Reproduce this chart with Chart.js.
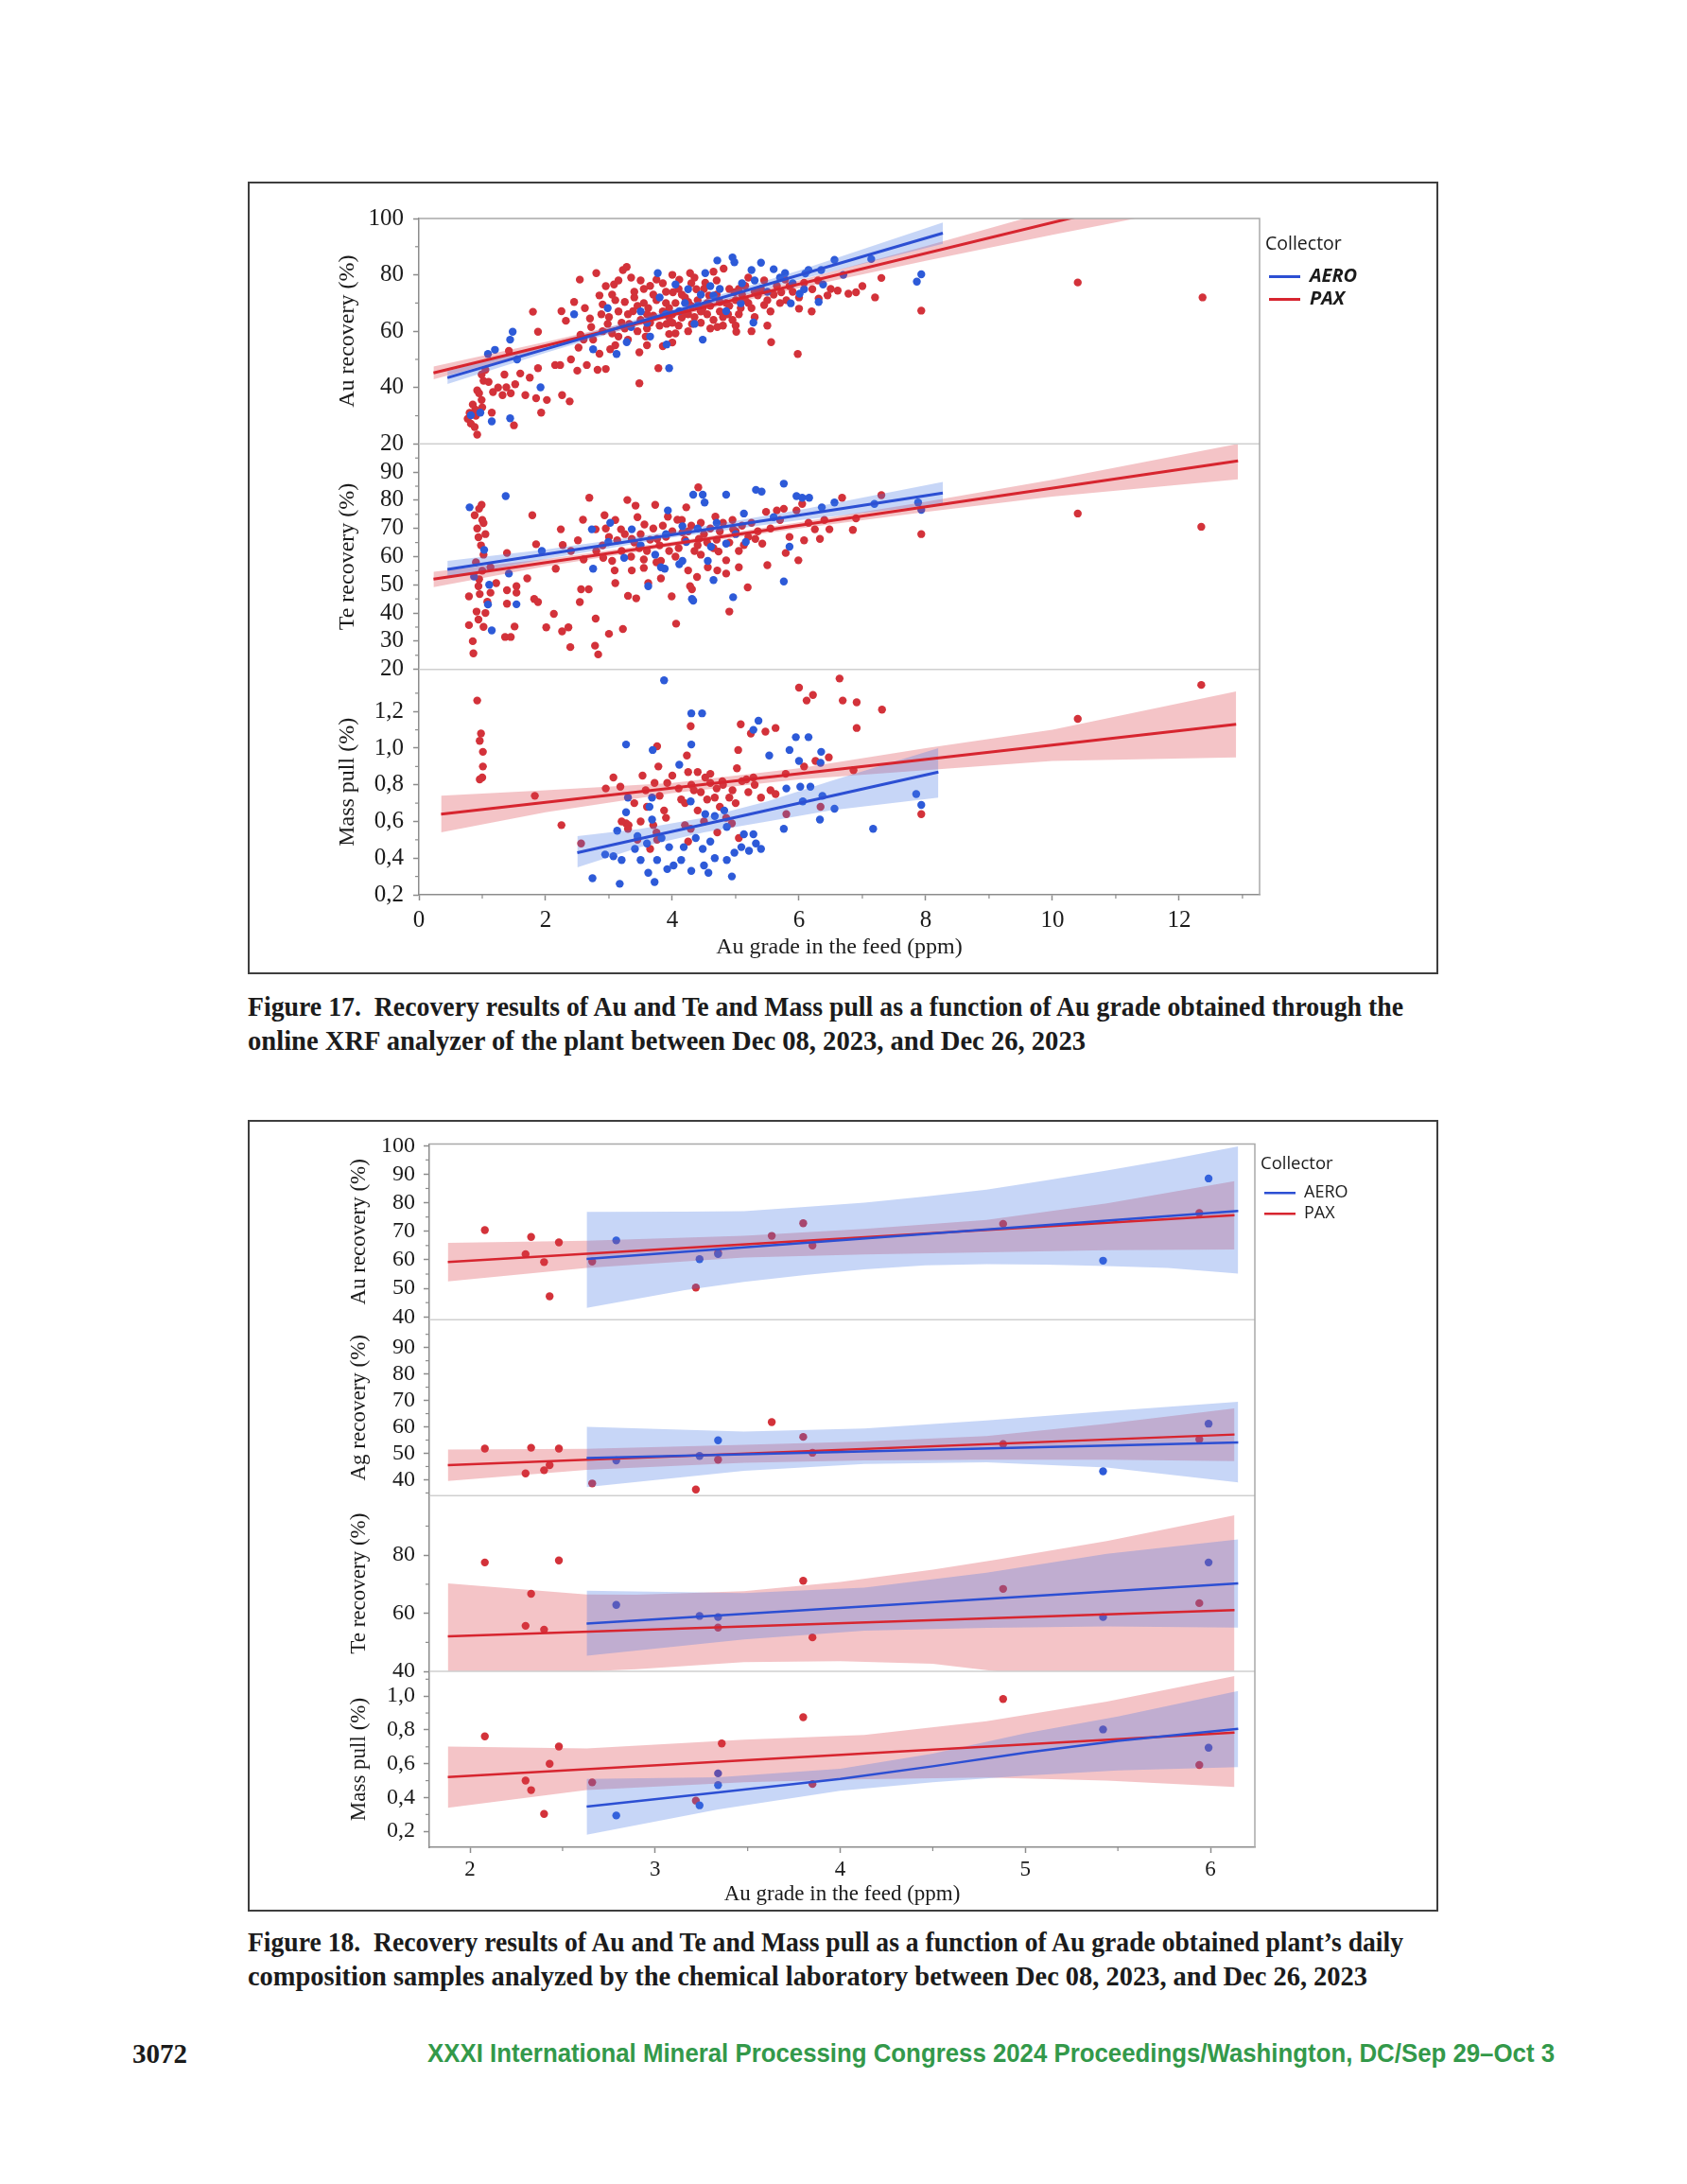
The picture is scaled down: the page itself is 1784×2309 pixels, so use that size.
<!DOCTYPE html>
<html>
<head>
<meta charset="utf-8">
<script src="https://cdn.jsdelivr.net/npm/chart.js@4.4.1/dist/chart.umd.min.js"></script>
<style>
html, body { margin: 0; padding: 0; background: #fff; }
body { width: 1784px; height: 2309px; position: relative; overflow: hidden; font-family: 'Liberation Serif', serif; color: #1b1b1b; }
.fig { position: absolute; left: 262px; width: 1255px; border: 2px solid #3e3e3e; background: #fff; }
#fig17 { top: 192px; height: 834px; }
#fig18 { top: 1184px; height: 833px; }
.line { position: absolute; white-space: nowrap; transform-origin: 0 50%; line-height: 36px; }
.cap { left: 262px; font-weight: bold; font-size: 30px; }
#pageNo { left: 140px; top: 2153px; font-weight: bold; font-size: 29px; }
#footer { left: 452px; top: 2153px; font-family: 'Liberation Sans', sans-serif; font-weight: bold; font-size: 28px; color: #33994a; }
</style>
</head>
<body>
<div class="fig" id="fig17"><canvas id="c17"></canvas></div>
<div class="line cap" id="cap17a" style="top:1046px">Figure 17.&nbsp; Recovery results of Au and Te and Mass pull as a function of Au grade obtained through the</div>
<div class="line cap" id="cap17b" style="top:1082px">online XRF analyzer of the plant between Dec 08, 2023, and Dec 26, 2023</div>

<div class="fig" id="fig18"><canvas id="c18"></canvas></div>
<div class="line cap" id="cap18a" style="top:2035px">Figure 18.&nbsp; Recovery results of Au and Te and Mass pull as a function of Au grade obtained plant’s daily</div>
<div class="line cap" id="cap18b" style="top:2071px">composition samples analyzed by the chemical laboratory between Dec 08, 2023, and Dec 26, 2023</div>

<div class="line" id="pageNo">3072</div>
<div class="line" id="footer">XXXI International Mineral Processing Congress 2024 Proceedings/Washington, DC/Sep 29–Oct 3</div>

<script>
// ---------- Figure 17 data (online XRF) : [Au grade ppm, value] ----------
const f17AuAero = [
  [0.82,30.2],[0.97,31.1],[1.15,28.0],[1.44,29.1],[1.92,40.1],[1.09,51.9],[1.20,53.4],[1.44,57.0],[1.48,59.8],[1.55,50.0],
  [2.45,66.0],[2.75,53.6],[3.12,51.9],[3.28,56.1],[3.91,55.3],[3.95,46.9],[4.48,57.0],[3.77,80.6],[4.05,76.6],[4.25,74.9],
  [4.52,80.6],[4.71,85.1],[4.95,86.2],[4.98,84.5],[5.25,81.7],[5.40,84.3],[5.28,63.1],[5.08,69.9],[4.85,67.1],[5.78,80.6],
  [5.87,69.9],[6.01,73.3],[6.15,81.7],[6.35,81.7],[6.31,70.4],[6.56,85.3],[6.38,76.6],[7.14,85.6],[6.08,74.9],[3.65,58.1],
  [3.35,61.5],[2.98,68.2],[4.11,67.1],[4.65,72.7],[4.35,62.6],[3.50,67.0],[4.40,69.0],[3.80,72.0],[4.60,76.0],[5.30,78.0],
  [5.60,82.0],[6.10,80.5],[5.70,79.0],[6.70,80.0],[7.86,77.6],[7.93,80.2],
  [3.60,63.0],[3.90,66.0],[4.20,70.0],[4.45,73.0],[4.75,75.0],[5.10,77.0],[5.50,74.0],[5.90,77.0]
];
const f17AuPax = [
  [0.77,28.9],[0.82,27.2],[0.92,23.3],[0.89,32.2],[0.99,35.6],[0.92,39.0],[1.02,42.4],[0.99,44.6],[1.05,46.3],[1.15,31.1],
  [1.17,38.4],[1.32,37.3],[1.38,40.1],[1.42,53.0],[1.35,44.6],[1.52,41.2],[1.50,26.6],[1.68,37.3],[1.75,43.5],[1.88,46.9],
  [1.88,59.8],[1.85,36.2],[1.93,31.1],[2.02,35.6],[1.80,66.9],[2.15,48.0],[2.23,48.0],[2.26,37.3],[2.38,35.1],[2.50,46.0],
  [2.65,48.0],[2.82,46.3],[2.95,46.6],[2.52,54.2],[2.55,58.7],[2.54,78.3],[2.80,80.6],[2.25,67.1],[2.32,63.7],[2.45,70.4],
  [2.62,68.2],[2.72,61.5],[2.85,72.7],[2.88,66.0],[2.98,62.6],[3.02,53.6],[3.08,76.6],[3.22,81.7],[3.28,82.8],[3.05,59.2],
  [3.15,58.1],[3.25,70.4],[3.32,62.6],[3.38,67.1],[3.48,52.5],[3.48,41.5],[3.58,58.1],[3.62,68.2],[3.65,76.1],[3.75,78.3],
  [3.78,46.9],[3.85,54.7],[3.91,62.6],[3.95,68.2],[4.01,73.8],[4.05,59.2],[4.11,78.3],[4.15,64.8],[4.25,70.4],[4.28,80.6],
  [4.31,62.6],[4.38,74.9],[4.48,68.2],[4.52,77.2],[4.58,72.7],[4.65,81.1],[4.71,61.5],[4.75,70.4],[4.81,82.2],[4.88,66.0],
  [4.98,73.8],[5.01,59.8],[5.08,68.2],[5.15,76.1],[5.25,68.2],[5.35,72.7],[5.45,69.3],[5.56,56.1],[5.65,76.1],[5.72,73.8],
  [5.78,78.3],[5.98,51.9],[6.08,77.2],[6.21,74.9],[6.31,71.6],[6.45,72.7],[6.61,74.4],[6.78,73.3],[6.90,73.8],[7.30,78.9],
  [7.93,67.3],[10.40,77.3],[12.37,72.0],
  [2.70,64.5],[2.90,69.5],[3.00,65.0],[3.10,71.0],[3.20,63.0],[3.30,66.0],[3.40,72.0],[3.45,60.0],[3.50,64.0],[3.55,70.0],
  [3.60,61.0],[3.70,65.5],[3.75,71.0],[3.80,62.0],[3.85,67.0],[3.90,74.0],[3.95,59.0],[4.00,66.0],[4.05,70.0],[4.10,62.0],
  [4.15,73.0],[4.20,67.0],[4.25,60.0],[4.30,69.0],[4.35,65.0],[4.40,71.0],[4.45,63.0],[4.50,75.0],[4.55,66.0],[4.60,69.0],
  [4.65,64.0],[4.70,73.0],[4.75,67.0],[4.80,62.0],[4.85,70.0],[4.90,75.0],[4.95,64.0],[5.00,71.0],[5.05,66.0],[5.10,73.0],
  [5.20,70.0],[5.30,65.0],[5.40,75.0],[5.50,71.0],[5.60,73.0],[5.80,71.0],[5.90,74.0],[6.00,72.0],[3.30,57.0],[3.60,55.0],
  [4.00,56.0],[2.60,57.0],[2.40,50.0],[3.10,55.0],[2.95,76.0],[3.50,78.0],[4.30,77.0],[5.20,79.0],[4.00,80.0],[3.40,74.0],
  [5.50,62.0],[6.20,67.0],[6.50,75.0],[7.00,76.0],[7.20,72.0],
  [0.80,31.0],[0.85,34.0],[0.90,30.0],[0.95,38.0],[1.00,33.0],[0.88,26.0],[1.10,42.0],[1.25,40.0],[1.45,38.0],[1.60,45.0],
  [3.05,73.0],[3.15,78.0],[3.35,79.0],[3.45,69.0],[3.55,75.0],[3.65,63.0],[3.70,73.0],[3.85,77.0],[3.90,70.0],[4.00,63.0],
  [4.10,75.0],[4.20,72.0],[4.35,79.0],[4.45,67.0],[4.55,70.0],[4.70,78.0],[4.80,65.0],[4.90,69.0],[5.05,75.0],[5.15,71.0],
  [5.30,74.0],[5.45,78.0],[5.55,67.0],[5.70,70.0],[5.85,76.0],[6.00,68.0],[6.30,78.0],[2.75,57.0],[2.85,52.0],[2.90,60.0],
  [3.15,67.0],[3.25,61.0],[3.60,66.0],[3.95,65.0],[4.25,66.0],[4.60,61.0],[5.00,62.0],[5.25,60.0]
];
const f17TeAero = [
  [0.80,77.5],[1.37,81.5],[1.03,62.4],[0.87,52.9],[1.11,50.0],[1.42,54.0],[1.54,43.1],[1.09,43.0],[1.15,33.8],[1.94,62.0],
  [2.75,55.7],[2.99,65.2],[3.24,59.6],[3.36,69.7],[3.62,49.5],[3.73,60.7],[3.82,56.2],[3.88,55.7],[4.11,57.3],[4.16,58.5],
  [4.31,45.0],[4.33,44.4],[4.33,82.0],[4.48,82.0],[4.51,79.2],[4.56,58.5],[4.61,63.5],[4.65,51.7],[4.85,82.0],[4.85,64.6],
  [4.96,45.6],[5.16,65.2],[5.32,83.7],[5.41,83.1],[5.76,85.9],[5.76,51.2],[5.85,63.5],[5.96,81.5],[6.05,80.9],[6.16,80.9],
  [6.36,77.5],[6.56,79.2],[7.19,78.7],[7.88,79.2],[7.93,76.6],[4.16,70.8],[3.93,76.4],[4.22,65.2],[3.02,72.0],[2.73,69.7],
  [5.13,75.3],[3.50,64.0],[3.90,68.0],[4.40,70.0],[4.70,72.0],[5.00,68.0],[5.60,74.0]
];
const f17TePax = [
  [0.86,25.7],[0.79,35.7],[1.02,35.1],[0.94,37.7],[0.91,40.5],[1.05,40.0],[0.79,45.9],[0.96,46.7],[0.94,49.5],[1.13,47.2],
  [1.22,50.6],[1.39,48.1],[1.54,49.5],[1.71,52.3],[1.39,43.3],[1.54,47.2],[1.36,31.5],[1.45,31.5],[1.51,35.2],[1.82,45.0],
  [1.88,43.9],[2.13,39.7],[2.01,34.9],[2.26,33.5],[2.39,27.9],[2.36,34.9],[2.79,38.0],[2.83,25.3],[2.78,28.4],[3.00,32.6],
  [3.22,34.3],[2.54,43.9],[2.56,48.4],[2.68,48.4],[2.16,55.7],[1.85,64.4],[1.79,74.7],[0.99,78.4],[0.88,74.7],[1.02,71.9],
  [0.94,66.9],[1.02,60.7],[1.13,56.2],[1.39,61.3],[2.24,69.7],[2.27,64.1],[2.51,65.8],[2.59,73.1],[2.69,80.9],[2.93,74.7],
  [2.79,69.7],[2.91,59.6],[3.05,58.5],[3.10,50.6],[3.09,55.1],[3.13,65.8],[3.19,69.7],[3.29,80.1],[3.42,78.1],[3.36,66.3],
  [3.36,55.1],[3.48,63.0],[3.30,46.1],[3.43,45.2],[3.56,71.4],[3.62,50.6],[3.73,78.4],[3.76,66.3],[3.82,58.5],[3.82,52.3],
  [3.99,45.9],[3.93,74.2],[4.06,36.2],[4.08,73.1],[4.16,68.6],[4.22,77.5],[4.25,55.1],[4.28,49.5],[4.31,48.4],[4.41,84.6],
  [4.42,66.3],[4.45,60.7],[4.39,52.8],[4.56,56.2],[4.68,74.2],[4.71,55.1],[4.73,61.8],[4.85,58.7],[4.90,40.5],[4.96,69.7],
  [5.05,56.2],[5.19,49.1],[5.13,64.1],[5.31,66.3],[5.42,64.6],[5.48,75.9],[5.65,76.4],[5.76,77.0],[5.79,61.3],[5.99,58.7],
  [6.08,65.8],[6.25,69.7],[6.33,66.3],[6.48,69.7],[6.68,80.9],[6.90,73.6],[6.85,69.5],[7.30,81.8],[7.93,68.0],[5.96,76.4],
  [6.05,78.7],[10.40,75.3],[12.35,70.6],
  [3.40,65.0],[3.50,68.0],[3.60,62.0],[3.70,70.0],[3.80,64.0],[3.90,67.0],[4.00,69.0],[4.10,63.0],[4.20,66.0],[4.30,71.0],
  [4.40,64.0],[4.50,68.0],[4.60,70.0],[4.70,66.0],[4.80,72.0],[4.90,65.0],[5.00,69.0],[5.10,71.0],[5.20,67.0],[3.35,60.0],
  [3.55,59.0],[3.75,58.0],[4.05,60.0],[4.35,62.0],[4.65,63.0],[3.20,62.0],[3.00,67.0],[2.90,64.0],
  [0.95,77.0],[1.00,73.0],[0.92,70.0],[1.05,68.0],[0.98,64.0],[0.90,58.0],[1.00,55.0],[0.95,52.0],[1.08,44.0],[0.85,30.0],
  [3.10,73.0],[3.25,68.0],[3.45,74.0],[3.65,66.0],[3.85,71.0],[3.95,62.0],[4.15,73.0],[4.25,69.0],[4.45,72.0],[4.55,65.0],
  [4.75,69.0],[4.95,73.0],[5.05,62.0],[5.25,72.0],[5.35,69.0],[5.55,70.0],[5.70,73.0],[5.85,67.0],[6.15,72.0],[6.40,73.0],
  [2.95,70.0],[2.80,62.0],[2.60,59.0],[2.40,62.0],[3.55,56.0],[4.85,54.0],[5.50,57.0]
];
const f17MassAero = [
  [3.87,1.37],[4.30,1.19],[4.47,1.19],[3.27,1.02],[3.69,0.99],[4.30,1.02],[5.36,1.15],[5.28,1.10],[5.53,0.96],[5.85,0.99],
  [5.95,1.06],[6.15,1.06],[6.00,0.93],[6.35,0.98],[6.34,0.92],[4.11,0.91],[3.30,0.73],[3.68,0.73],[5.80,0.78],[6.02,0.79],
  [6.18,0.79],[6.37,0.74],[6.06,0.71],[7.85,0.75],[7.93,0.69],[6.56,0.67],[6.33,0.61],[7.17,0.56],[5.76,0.56],[2.74,0.29],
  [3.17,0.26],[3.72,0.27],[4.94,0.30],[3.13,0.55],[3.27,0.65],[2.94,0.42],[3.07,0.41],[3.20,0.39],[3.41,0.45],[3.50,0.39],
  [3.62,0.32],[3.76,0.39],[3.92,0.34],[4.02,0.36],[4.14,0.39],[4.30,0.33],[4.50,0.36],[4.57,0.32],[4.67,0.40],[4.86,0.39],
  [4.98,0.43],[5.09,0.46],[5.21,0.44],[5.32,0.48],[5.40,0.45],[5.28,0.53],[5.13,0.53],[4.60,0.49],[4.48,0.45],[4.37,0.51],
  [4.18,0.46],[3.95,0.46],[3.83,0.51],[3.60,0.48],[3.45,0.52],[3.68,0.61],[3.64,0.68],[4.29,0.71],[4.52,0.64],[4.67,0.63],
  [4.86,0.57],[4.82,0.66]
];
const f17MassPax = [
  [0.92,1.26],[0.98,1.08],[0.96,1.04],[1.01,0.98],[1.01,0.90],[0.96,0.83],[1.00,0.84],[1.83,0.74],[2.25,0.58],[2.56,0.48],
  [2.95,0.78],[3.07,0.84],[3.18,0.79],[3.27,0.59],[3.31,0.58],[3.53,0.85],[3.58,0.77],[3.76,1.01],[3.78,0.90],[3.72,0.81],
  [3.87,0.66],[3.92,0.81],[4.14,0.72],[4.23,0.96],[4.29,1.12],[4.25,0.87],[4.34,0.77],[4.40,0.87],[4.52,0.84],[4.60,0.81],
  [4.67,0.73],[4.79,0.82],[4.90,0.73],[5.02,0.89],[5.04,0.99],[5.08,1.13],[5.17,0.83],[5.24,1.08],[5.28,0.84],[5.40,0.73],
  [5.47,1.09],[5.63,1.11],[5.55,0.77],[5.63,0.75],[5.79,0.86],[5.80,0.64],[6.00,1.33],[6.12,1.26],[6.22,1.29],[6.08,0.90],
  [6.26,0.93],[6.34,0.68],[6.47,0.95],[6.64,1.38],[6.69,1.26],[6.91,1.25],[6.91,1.11],[6.86,0.88],[7.31,1.21],[7.93,0.64],
  [5.05,0.51],[4.25,0.49],[3.76,0.50],[4.29,0.56],[4.71,0.54],[4.94,0.59],[10.40,1.16],[12.35,1.345],
  [3.40,0.70],[3.60,0.68],[3.80,0.74],[3.90,0.62],[4.00,0.85],[4.10,0.78],[4.20,0.70],[4.30,0.80],[4.40,0.66],[4.45,0.76],
  [4.55,0.72],[4.60,0.86],[4.70,0.78],[4.75,0.68],[4.80,0.80],[4.85,0.62],[4.95,0.77],[5.00,0.70],[5.10,0.82],[5.20,0.76],
  [5.30,0.80],[3.50,0.60],[3.70,0.58],[4.20,0.58],[4.50,0.60],[3.30,0.56],[3.20,0.60],[3.45,0.50],[3.65,0.45],[3.75,0.54]
];
// fitted lines [x, y] and confidence bands [x, lower, upper]
const f17AuAeroFit = [[0.45,43.5],[8.27,94.8]];
const f17AuPaxFit = [[0.23,45.2],[12.9,114.4]];
const f17AuAeroBand = [[0.45,41.3,45.8],[2,52.3,55.1],[4,65.8,67.8],[6,78.3,81.5],[8.27,91.0,98.6]];
const f17AuPaxBand = [[0.23,42.9,47.5],[2,53.6,56.2],[4,64.9,66.7],[6,75.3,78.0],[8,85.0,90.2],[10,94.2,102.8],[12.9,107,122]];
const f17TeAeroFit = [[0.45,55.5],[8.27,82.6]];
const f17TePaxFit = [[0.23,52.0],[12.93,94.0]];
const f17TeAeroBand = [[0.45,52.5,58.5],[2,59.2,62.5],[4,66.8,68.9],[6,72.9,76.5],[8.27,78.7,86.5]];
const f17TePaxBand = [[0.23,49.2,54.6],[2,56.6,59.2],[4,63.7,65.3],[6,70.0,72.2],[8,75.9,79.5],[10,81.3,87.3],[12.93,87.4,100]];
const f17MassAeroFit = [[2.5,0.43],[8.2,0.87]];
const f17MassPaxFit = [[0.35,0.64],[12.9,1.13]];
const f17MassAeroBand = [[2.5,0.35,0.52],[3.5,0.46,0.56],[4.5,0.54,0.62],[5.5,0.60,0.71],[6.5,0.66,0.82],[8.2,0.73,1.0]];
const f17MassPaxBand = [[0.35,0.54,0.74],[2,0.65,0.77],[4,0.755,0.81],[6,0.83,0.89],[8,0.88,1.0],[10,0.93,1.1],[12.9,0.95,1.31]];

// ---------- Figure 18 data (chemical laboratory) ----------
const f18AuAero = [[2.79,66.8],[3.24,60.2],[3.34,62.0],[5.42,59.7],[5.99,88.5]];
const f18AuPax = [[2.08,70.4],[2.30,62.0],[2.33,68.0],[2.40,59.2],[2.43,47.2],[2.48,66.1],[2.66,59.4],[3.22,50.3],[3.34,62.5],[3.63,68.4],[3.80,72.8],[3.85,65.0],[4.88,72.6],[5.94,76.4]];
const f18AgAero = [[2.79,47.3],[3.24,49.0],[3.34,54.9],[5.42,43.2],[5.99,61.2]];
const f18AgPax = [[2.08,51.8],[2.30,42.4],[2.33,52.1],[2.40,43.6],[2.43,45.5],[2.48,51.8],[2.66,38.6],[3.22,36.3],[3.34,47.6],[3.63,61.8],[3.80,56.2],[3.85,50.2],[4.88,53.5],[5.94,55.3]];
const f18TeAero = [[2.79,62.9],[3.24,59.1],[3.34,58.7],[5.42,58.7],[5.99,77.5]];
const f18TePax = [[2.08,77.5],[2.30,55.7],[2.33,66.7],[2.40,54.4],[2.48,78.2],[3.34,55.1],[3.80,71.2],[3.85,51.7],[4.88,68.4],[5.94,63.5]];
const f18MassAero = [[2.79,0.294],[3.24,0.354],[3.34,0.543],[3.34,0.474],[5.42,0.803],[5.99,0.695]];
const f18MassPax = [[2.08,0.762],[2.30,0.50],[2.33,0.444],[2.40,0.303],[2.43,0.60],[2.48,0.702],[2.66,0.49],[3.22,0.382],[3.36,0.72],[3.80,0.875],[3.85,0.48],[4.88,0.983],[5.94,0.593]];
const f18AuAeroFit = [[2.63,60.3],[6.15,77.1]];
const f18AuPaxFit = [[1.88,59.2],[6.13,75.6]];
const f18AuAeroBand = [[2.63,43.2,76.8],[3.16,49.4,76.9],[3.48,52.3,77.0],[3.81,54.7,78.5],[4.13,56.7,80.0],[4.46,58.1,82.2],[4.79,58.5,84.6],[5.11,58.3,87.8],[5.44,57.8,91.3],[5.77,57.2,95.0],[6.15,55.2,99.7]];
const f18AuPaxBand = [[1.88,52.4,65.9],[2.63,57.2,66.7],[3.48,60.8,68.4],[4.13,61.9,70.8],[4.79,62.6,74.0],[5.44,63.4,79.8],[6.13,63.6,87.6]];
const f18AgAeroFit = [[2.63,48.2],[6.15,54.1]];
const f18AgPaxFit = [[1.88,45.5],[6.13,57.1]];
const f18AgAeroBand = [[2.63,37.2,60.0],[3.48,43.4,58.2],[4.13,46.0,59.4],[4.79,46.6,62.4],[5.44,44.6,65.9],[6.15,39.0,69.5]];
const f18AgPaxBand = [[1.88,39.5,51.4],[2.63,43.7,51.7],[3.48,46.4,53.2],[4.13,47.3,54.5],[4.79,47.6,56.5],[5.44,47.6,61.2],[6.13,47.0,67.0]];
const f18TeAeroFit = [[2.63,56.5],[6.15,70.3]];
const f18TePaxFit = [[1.88,52.1],[6.13,61.1]];
const f18TeAeroBand = [[2.63,45.4,67.8],[3.48,51.0,67.0],[4.13,54.0,68.8],[4.79,55.0,74.0],[5.44,55.5,80.5],[6.15,55.1,85.4]];
const f18TePaxBand = [[1.88,40.0,70.3],[2.63,40.0,66.5],[2.90,40.8,66.4],[3.48,43.2,67.6],[4.0,43.5,70.8],[4.5,42.6,75.0],[4.85,40.0,78.5],[5.44,40.0,84.9],[6.13,40.0,93.7]];
const f18MassAeroFit = [[2.63,0.346],[3.34,0.43],[4.0,0.51],[4.5,0.585],[5.0,0.665],[5.5,0.735],[6.15,0.807]];
const f18MassPaxFit = [[1.88,0.522],[6.13,0.785]];
const f18MassAeroBand = [[2.63,0.18,0.51],[3.34,0.33,0.52],[4.0,0.44,0.57],[4.5,0.49,0.66],[5.0,0.53,0.78],[5.5,0.56,0.88],[6.15,0.58,1.03]];
const f18MassPaxBand = [[1.88,0.34,0.702],[2.63,0.444,0.691],[3.48,0.49,0.743],[4.13,0.509,0.771],[4.79,0.519,0.852],[5.44,0.50,0.968],[6.13,0.462,1.118]];

// tick values
const f17XTicks = [0, 2, 4, 6, 8, 10, 12];
const f17XMinor = [1, 3, 5, 7, 9, 11, 13];
const f18XTicks = [2, 3, 4, 5, 6];
const f18XMinor = [2.5, 3.5, 4.5, 5.5];

const SERIF = "'Liberation Serif', serif";
const SANS = "'Open Sans', 'Liberation Sans', sans-serif";
const INK = '#1b1b1b';
const AXIS = '#8c8c8c';
const RED = '#d3323a', BLUE = '#2d5ad8';
const RED_LINE = '#d7252f', BLUE_LINE = '#2c4fd3';
const RED_BAND = 'rgba(220,60,70,0.3)', BLUE_BAND = 'rgba(70,120,230,0.3)';

const xy = rows => rows.map(r => ({x: r[0], y: r[1]}));
const comma = v => v.toFixed(1).replace('.', ',');

function points(rows, axis, color, r) {
  return {type: 'scatter', data: xy(rows), yAxisID: axis, backgroundColor: color, borderWidth: 0,
          pointRadius: r, pointHoverRadius: r, order: 2};
}
function band(rows, axis, color) {
  return [
    {type: 'line', data: rows.map(r => ({x: r[0], y: r[1]})), yAxisID: axis, borderWidth: 0,
     borderColor: 'transparent', pointRadius: 0, fill: false, order: 1},
    {type: 'line', data: rows.map(r => ({x: r[0], y: r[2]})), yAxisID: axis, borderWidth: 0,
     borderColor: 'transparent', pointRadius: 0, fill: '-1', backgroundColor: color, order: 1}
  ];
}
function fit(rows, axis, color, label, w, inLegend) {
  return {type: 'line', label: label, inLegend: inLegend, data: xy(rows), yAxisID: axis, borderColor: color,
          backgroundColor: color, borderWidth: w, pointRadius: 0, fill: false, order: 0};
}
function panel(axis, aero, pax, aeroBand, paxBand, aeroFit, paxFit, r, w, first) {
  return [
    points(aero, axis, BLUE, r), points(pax, axis, RED, r),
    ...band(aeroBand, axis, BLUE_BAND), ...band(paxBand, axis, RED_BAND),
    fit(aeroFit, axis, BLUE_LINE, 'AERO', w, first), fit(paxFit, axis, RED_LINE, 'PAX', w, first)
  ];
}

function xScale(min, max, ticks, fmt, f) {
  return {
    type: 'linear', position: 'bottom', min: min, max: max,
    afterBuildTicks: s => { s.ticks = ticks.map(v => ({value: v})); },
    afterFit: s => { s.height = f.height; },
    grid: {drawOnChartArea: false, drawTicks: true, tickLength: 6, tickColor: AXIS, tickWidth: 1.5},
    border: {display: true, color: AXIS, width: 1.5},
    ticks: {padding: f.pad, color: INK, font: {family: SERIF, size: f.tick}, callback: fmt, maxRotation: 0, autoSkip: false},
    title: {display: true, text: 'Au grade in the feed (ppm)', color: INK, font: {family: SERIF, size: f.title}, padding: 0}
  };
}
function yScale(title, min, max, ticks, fmt, stack, weight, f) {
  return {
    type: 'linear', position: 'left', stack: stack, stackWeight: 1, weight: weight, min: min, max: max,
    afterBuildTicks: s => { s.ticks = ticks.map(v => ({value: v})); },
    afterFit: s => { s.width = f.width; },
    grid: {drawOnChartArea: false, drawTicks: true, tickLength: 6, tickColor: AXIS, tickWidth: 1.5},
    border: {display: true, color: AXIS, width: 1.5},
    ticks: {padding: f.pad, color: INK, font: {family: SERIF, size: f.tick}, callback: fmt, autoSkip: false},
    title: {display: true, text: title, color: INK, font: {family: SERIF, size: f.title}, padding: 0}
  };
}

// separators between panels, light frame, minor ticks
const panelFrame = {
  id: 'panelFrame',
  afterLayout(chart, args, opts) {
    // small gap between plot frame and legend
    if (chart.legend) {
      chart.legend.left += opts.legendShift;
      chart.legend.right += opts.legendShift;
    }
  },
  afterDraw(chart, args, opts) {
    const ctx = chart.ctx, a = chart.chartArea;
    ctx.save();
    ctx.lineWidth = 1.5;
    ctx.strokeStyle = '#cfcfcf';
    Object.values(chart.scales).forEach(s => {
      if (s.axis === 'y' && s.top > a.top + 2) {
        ctx.beginPath(); ctx.moveTo(a.left, s.top); ctx.lineTo(a.right, s.top); ctx.stroke();
      }
    });
    ctx.strokeStyle = '#a9a9a9';
    ctx.beginPath(); ctx.moveTo(a.left, a.top); ctx.lineTo(a.right, a.top); ctx.lineTo(a.right, a.bottom); ctx.stroke();
    ctx.strokeStyle = AXIS;
    ctx.lineWidth = 1.2;
    Object.entries(opts.minor || {}).forEach(([id, vals]) => {
      const s = chart.scales[id];
      if (!s) return;
      vals.forEach(v => {
        const p = s.getPixelForValue(v);
        ctx.beginPath();
        if (s.axis === 'x') {
          if (p < s.left - 1 || p > s.right + 1) return;
          ctx.moveTo(p, s.top); ctx.lineTo(p, s.top + 4);
        } else {
          if (p < s.top - 1 || p > s.bottom + 1) return;
          ctx.moveTo(s.right - 4, p); ctx.lineTo(s.right, p);
        }
        ctx.stroke();
      });
    });
    ctx.restore();
  }
};

function legendOpts(itemFont, titleSize, titleTop, titleBottom) {
  return {
    position: 'right', align: 'start',
    title: {display: true, text: 'Collector', position: 'start', color: INK,
            font: {family: SANS, size: titleSize}, padding: {top: titleTop, bottom: titleBottom}},
    labels: {
      filter: (item, data) => data.datasets[item.datasetIndex].inLegend === true,
      usePointStyle: true, pointStyle: 'line', pointStyleWidth: 33, boxHeight: 16,
      color: INK, font: itemFont, padding: 4
    }
  };
}

function makeChart(id, datasets, scales, minor, legend, padding, rightTarget) {
  const chart = new Chart(document.getElementById(id), {
    type: 'scatter',
    data: {datasets: datasets},
    options: {
      responsive: true, maintainAspectRatio: false, animation: false, events: [],
      layout: {padding: padding},
      scales: scales,
      plugins: {legend: legend, tooltip: {enabled: false}, panelFrame: {minor: minor, legendShift: 6}}
    },
    plugins: [panelFrame]
  });
  // pin the right edge of the plot area next to the legend
  const dx = chart.chartArea.right - rightTarget;
  chart.config.options.layout.padding.right += dx;
  chart.update();
  return chart;
}

// ---------- Figure 17 ----------
const f17Font = {width: 90, pad: 10, tick: 25, title: 24};
makeChart('c17',
  [
    ...panel('au', f17AuAero, f17AuPax, f17AuAeroBand, f17AuPaxBand, f17AuAeroFit, f17AuPaxFit, 4.2, 3, true),
    ...panel('te', f17TeAero, f17TePax, f17TeAeroBand, f17TePaxBand, f17TeAeroFit, f17TePaxFit, 4.2, 3, false),
    ...panel('mp', f17MassAero, f17MassPax, f17MassAeroBand, f17MassPaxBand, f17MassAeroFit, f17MassPaxFit, 4.2, 3, false)
  ],
  {
    x: xScale(0, 13.27, f17XTicks, v => String(v), {height: 70, pad: 6, tick: 25, title: 24}),
    mp: yScale('Mass pull (%)', 0.2, 1.43, [0.2, 0.4, 0.6, 0.8, 1.0, 1.2], comma, 'f17', 1, f17Font),
    te: yScale('Te recovery (%)', 20, 100, [20, 30, 40, 50, 60, 70, 80, 90], v => String(v), 'f17', 2, f17Font),
    au: yScale('Au recovery (%)', 20, 100, [20, 40, 60, 80, 100], v => String(v), 'f17', 3, f17Font)
  },
  {
    x: f17XMinor,
    au: [30, 50, 70, 90],
    te: [25, 35, 45, 55, 65, 75, 85, 95],
    mp: [0.3, 0.5, 0.7, 0.9, 1.1, 1.3]
  },
  legendOpts({family: SANS, size: 20, style: 'italic', weight: 'bold'}, 19.5, 18, 6),
  {top: 37, right: 60, bottom: 12, left: 89},
  1068
);

// ---------- Figure 18 ----------
const f18Font = {width: 88, pad: 9, tick: 24, title: 23};
makeChart('c18',
  [
    ...panel('au', f18AuAero, f18AuPax, f18AuAeroBand, f18AuPaxBand, f18AuAeroFit, f18AuPaxFit, 4.2, 2.5, true),
    ...panel('ag', f18AgAero, f18AgPax, f18AgAeroBand, f18AgPaxBand, f18AgAeroFit, f18AgPaxFit, 4.2, 2.5, false),
    ...panel('te', f18TeAero, f18TePax, f18TeAeroBand, f18TePaxBand, f18TeAeroFit, f18TePaxFit, 4.2, 2.5, false),
    ...panel('mp', f18MassAero, f18MassPax, f18MassAeroBand, f18MassPaxBand, f18MassAeroFit, f18MassPaxFit, 4.2, 2.5, false)
  ],
  {
    x: xScale(1.78, 6.24, f18XTicks, v => String(v), {height: 64, pad: 4, tick: 23, title: 23}),
    mp: yScale('Mass pull (%)', 0.106, 1.146, [0.2, 0.4, 0.6, 0.8, 1.0], comma, 'f18', 1, f18Font),
    te: yScale('Te recovery (%)', 40, 100.5, [40, 60, 80], v => String(v), 'f18', 2, f18Font),
    ag: yScale('Ag recovery (%)', 34, 100.5, [40, 50, 60, 70, 80, 90], v => String(v), 'f18', 3, f18Font),
    au: yScale('Au recovery (%)', 39, 100.6, [40, 50, 60, 70, 80, 90, 100], v => String(v), 'f18', 4, f18Font)
  },
  {
    x: f18XMinor,
    au: [45, 55, 65, 75, 85, 95],
    ag: [35, 45, 55, 65, 75, 85, 95],
    te: [50, 70, 90],
    mp: [0.3, 0.5, 0.7, 0.9, 1.1]
  },
  legendOpts({family: SANS, size: 18}, 18.5, 16, 5),
  {top: 19, right: 60, bottom: 2, left: 102},
  1063
);

// stretch caption lines to the widths they have on the page
function fitWidth(id, w) {
  const el = document.getElementById(id);
  el.style.transform = 'scaleX(' + (w / el.getBoundingClientRect().width) + ')';
}
fitWidth('cap17a', 1222);
fitWidth('cap17b', 886);
fitWidth('cap18a', 1222);
fitWidth('cap18b', 1184);
fitWidth('footer', 1192);
fitWidth('pageNo', 58);
</script>
</body>
</html>
